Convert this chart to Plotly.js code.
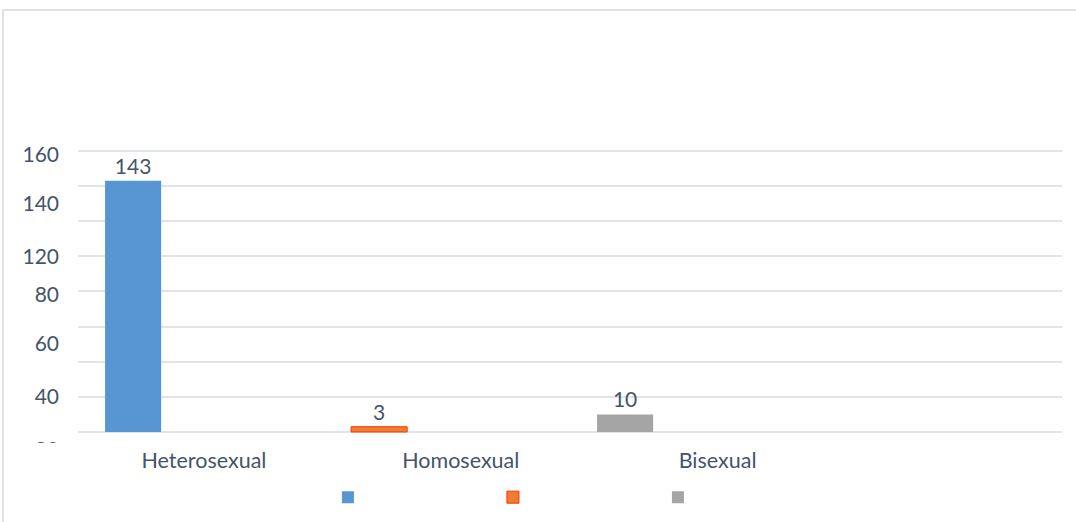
<!DOCTYPE html>
<html>
<head>
<meta charset="utf-8">
<script src="https://cdn.plot.ly/plotly-3.0.1.min.js"></script>
<style>
    html, body { margin: 0; background: #fff; overflow: hidden; }
    #chart { width: 1076px; height: 522px; }
    .edge { position: absolute; background: #dfe2ea; pointer-events: none; }
    #edgeTop { left: 2px; top: 9px; width: 1074px; height: 2px; }
    #edgeLeft { left: 2px; top: 9px; width: 2px; height: 513px; }
</style>
</head>
<body>
<div id="chart"></div>
<div class="edge" id="edgeTop"></div>
<div class="edge" id="edgeLeft"></div>
<script>
    // values
    var categories = ["Heterosexual", "Homosexual", "Bisexual"];
    var counts = [143, 3, 10];
    var colors = ["#5796d3", "#ed7d31", "#a5a5a5"];

    // the y labels do not sit on the gridlines in the original
    var yTickVals = [158, 130, 100, 78, 50, 20, -10];
    var yTickText = ["160", "140", "120", "80", "60", "40", "20"];
    var gridVals = [0, 20, 40, 60, 80, 100, 120, 140, 160];

    var textColor = "#44546a";
    var font = "Lato, 'Open Sans', sans-serif";

    var data = categories.map((name, i) => ({
        type: "bar",
        name: " ",
        x: [i],
        y: [counts[i]],
        width: 0.228,
        offset: -0.39,
        text: [String(counts[i])],
        textposition: "outside",
        cliponaxis: false,
        textfont: { family: font, size: 21, color: textColor },
        marker: {
            color: colors[i],
            line: { color: i === 1 ? "#ff3300" : colors[i], width: i === 1 ? 1 : 0 },
        },
        hoverinfo: "x+y",
    }));

    var layout = {
        width: 1076,
        height: 522,
        margin: { l: 78, r: 14, t: 147, b: 62, autoexpand: false },
        paper_bgcolor: "#fff",
        plot_bgcolor: "#fff",
        showlegend: true,
        legend: {
            orientation: "h",
            x: 0.254,
            xanchor: "left",
            y: -0.12,
            yanchor: "middle",
            entrywidth: 120,
            entrywidthmode: "pixels",
            font: { family: font, size: 14, color: textColor },
        },
        xaxis: {
            range: [-0.5, 3.5],
            tickmode: "array",
            tickvals: categories.map((c, i) => i + 0.012 + 0.044 * i),
            ticktext: categories,
            showgrid: false,
            zeroline: false,
            showline: false,
            ticks: "",
            ticklabelstandoff: -15,
            tickfont: { family: font, size: 21.5, color: textColor },
        },
        yaxis: {
            range: [-15.94, 162.2],
            tickmode: "array",
            tickvals: yTickVals,
            ticktext: yTickText,
            showgrid: false,
            zeroline: false,
            showline: false,
            ticks: "",
            ticklabelstandoff: 18,
            tickfont: { family: font, size: 21, color: textColor },
            minor: {
                tickmode: "array",
                tickvals: gridVals,
                showgrid: true,
                gridcolor: "#e1e4ea",
                gridwidth: 2,
                ticks: "",
            },
        },
        shapes: [
            {
                // the lowest label is cut off at the plot edge in the original
                type: "rect",
                xref: "paper",
                yref: "paper",
                x0: -0.079,
                x1: -0.001,
                y0: -0.03,
                y1: 0.054,
                fillcolor: "#fff",
                line: { width: 0 },
                layer: "above",
            },
        ],
    };

    Plotly.newPlot("chart", data, layout, { displayModeBar: false, staticPlot: true });
</script>
</body>
</html>
